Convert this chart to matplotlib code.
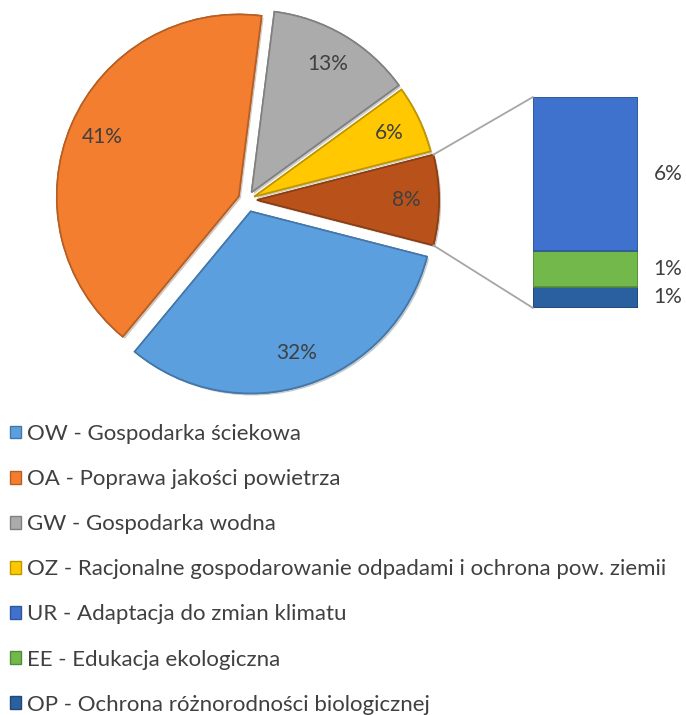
import matplotlib.pyplot as plt
import matplotlib.colors as mcolors
import matplotlib.patheffects as pe
from matplotlib.patches import ConnectionPatch, Patch
import math

# pie part
pie_labels = ['OW - Gospodarka ściekowa', 'OA - Poprawa jakości powietrza',
              'GW - Gospodarka wodna',
              'OZ - Racjonalne gospodarowanie odpadami i ochrona pow. ziemii']
pie_values = [32, 41, 13, 6]
pie_colors = ['#5B9FDF', '#F37E30', '#ABABAB', '#FFC800']

# bar part ("other" slice)
bar_labels = ['UR - Adaptacja do zmian klimatu', 'EE - Edukacja ekologiczna',
              'OP - Ochrona różnorodności biologicznej']
bar_values = [5.85, 1.35, 0.8]
bar_colors = ['#3F72CC', '#72B84A', '#2A5FA0']
other_color = '#B9521A'

explode = [12, 9, 9, 8, 10]
txt = '#404040'
plt.rcParams['font.family'] = ['Lato', 'DejaVu Sans']


def darker(c, f=0.75):
    r, g, b = mcolors.to_rgb(c)
    return (r * f, g * f, b * f)


W, H = 686, 715
fig = plt.figure(figsize=(W / 100, H / 100), dpi=100)
ax = fig.add_axes([0, 0, 1, 1])

vals = pie_values + [sum(bar_values)]
cols = pie_colors + [other_color]
wedges, _, autotexts = ax.pie(vals, colors=cols, explode=explode,
                              center=(247, H - 200), radius=182,
                              startangle=-14.4, counterclock=False,
                              autopct='%.0f%%', pctdistance=0.82,
                              textprops=dict(color=txt, fontsize=15))
for w, c in zip(wedges, cols):
    w.set_edgecolor(darker(c))
    w.set_linewidth(1.2)
    w.set_path_effects([pe.withSimplePatchShadow(offset=(1.5, -1.5), alpha=0.25),
                        pe.Normal()])
ax.set_xlim(0, W)
ax.set_ylim(0, H)
ax.set_aspect('equal')
ax.axis('off')

# stacked bar
bax = fig.add_axes([533 / W, (H - 308) / H, 105 / W, 211 / H])
bottom = 0
for v, c in zip(bar_values[::-1], bar_colors[::-1]):
    bax.bar(0, v, bottom=bottom, width=1, color=c, edgecolor=darker(c),
            linewidth=1.2)
    bax.text(0.65, bottom + v / 2, '%.0f%%' % v, color=txt, fontsize=15,
             va='center', ha='left')
    bottom += v
bax.set_xlim(-0.5, 0.5)
bax.set_ylim(0, bottom)
bax.axis('off')

# connector lines
ow = wedges[-1]
cx, cy = ow.center
for ang, yb in [(ow.theta2, bottom), (ow.theta1, 0)]:
    p = (cx + ow.r * math.cos(math.radians(ang)), cy + ow.r * math.sin(math.radians(ang)))
    con = ConnectionPatch(xyA=p, coordsA=ax.transData, xyB=(-0.5, yb),
                          coordsB=bax.transData, color='#A6A6A6', lw=1.3)
    fig.add_artist(con)

# legend
handles = [Patch(facecolor=c, edgecolor=darker(c)) for c in pie_colors + bar_colors]
fig.legend(handles, pie_labels + bar_labels, loc='upper left',
           bbox_to_anchor=(10 / W, 1 - 424 / H), frameon=False, fontsize=16,
           labelcolor=txt, handlelength=0.5, handleheight=0.5,
           handletextpad=0.25, labelspacing=1.13, borderpad=0, borderaxespad=0)

fig.savefig('out.png', dpi=100)
